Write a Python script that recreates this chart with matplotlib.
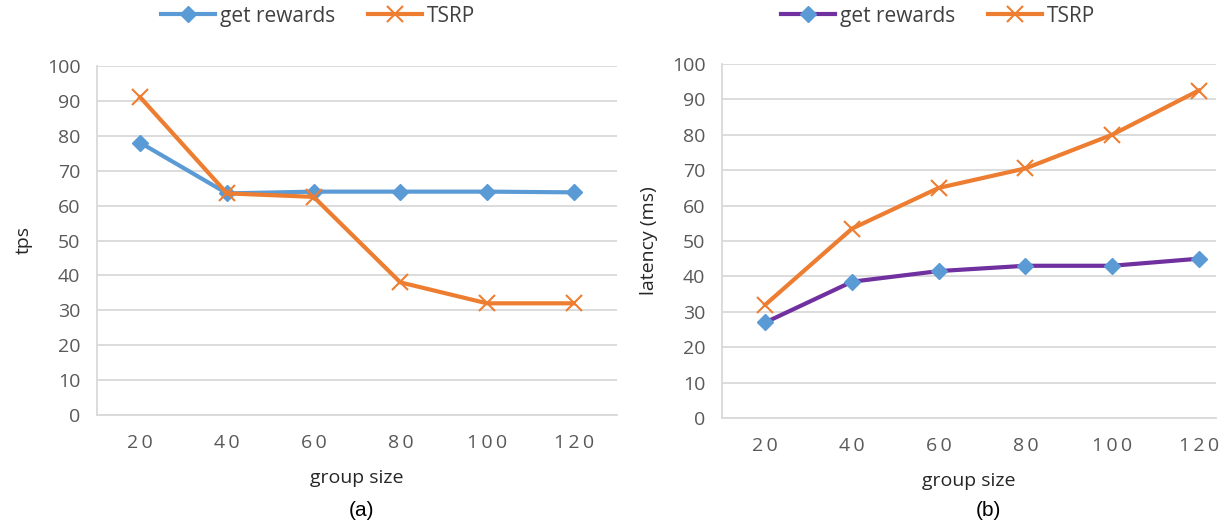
import matplotlib.pyplot as plt

group_size = ["20", "40", "60", "80", "100", "120"]

tps_rewards = [78, 63.5, 64, 64, 64, 63.8]
tps_tsrp = [91, 63.5, 62.5, 38, 32, 32]

lat_rewards = [27, 38.5, 41.5, 43, 43, 45]
lat_tsrp = [32, 53.5, 65, 70.5, 80, 92.5]

plt.rcParams["font.family"] = ["Open Sans", "DejaVu Sans"]

W, H = 1226, 525
fig = plt.figure(figsize=(W / 100, H / 100), dpi=100)


def px_axes(x0, x1, ytop, ybot):
    return fig.add_axes([x0 / W, 1 - ybot / H, (x1 - x0) / W, (ybot - ytop) / H])


def style(ax, xmax):
    ax.set_ylim(0, 100)
    ax.set_yticks(range(0, 101, 10))
    ax.set_xlim(-0.5, xmax)
    ax.grid(True, axis="y", color="#d9d9d9", lw=1.3)
    ax.set_axisbelow(True)
    for s in ["top", "right"]:
        ax.spines[s].set_visible(False)
    for s in ["left", "bottom"]:
        ax.spines[s].set_color("#d9d9d9")
        ax.spines[s].set_linewidth(1.3)
    ax.tick_params(length=0, labelsize=14, colors="#595959", pad=12)
    ax.tick_params(axis="x", pad=14)
    ax.set_xlabel("group size", fontsize=14, color="#262626", labelpad=12)


def spaced(s):
    return "\u2009".join(s)


x = range(len(group_size))

# (a) throughput
ax1 = px_axes(97, 617, 66, 415)
ax1.plot(x, tps_rewards, color="#5b9bd5", lw=3, marker="D", ms=8, label="get rewards")
ax1.plot(x, tps_tsrp, color="#ed7d31", lw=3, marker="x", ms=12, mew=1.5, label="TSRP")
ax1.set_xticks(list(x), [spaced(g) for g in group_size])
style(ax1, 5.5)
ax1.set_ylabel("tps", fontsize=14, color="#262626", labelpad=10)
fig.legend(*ax1.get_legend_handles_labels(), loc="center", bbox_to_anchor=(318 / W, 1 - 16 / H),
           ncol=2, frameon=False, fontsize=15, labelcolor="#404040", handlelength=2.6,
           columnspacing=1.6, handletextpad=0.2)
fig.text(361 / W, 1 - 510 / H, "(a)", ha="center", va="center", fontsize=15,
         family="Liberation Sans")

# (b) latency
ax2 = px_axes(722, 1216, 64, 418)
ax2.plot(x, lat_rewards, color="#7030a0", lw=3, marker="D", ms=8,
         mfc="#5b9bd5", mec="#5b9bd5", label="get rewards")
ax2.plot(x, lat_tsrp, color="#ed7d31", lw=3, marker="x", ms=12, mew=1.5, label="TSRP")
ax2.set_xticks(list(x), [spaced(g) for g in group_size])
style(ax2, 5.2)
ax2.set_ylabel("latency (ms)", fontsize=14, color="#262626", labelpad=10)
fig.legend(*ax2.get_legend_handles_labels(), loc="center", bbox_to_anchor=(938 / W, 1 - 16 / H),
           ncol=2, frameon=False, fontsize=15, labelcolor="#404040", handlelength=2.6,
           columnspacing=1.6, handletextpad=0.2)
fig.text(988 / W, 1 - 510 / H, "(b)", ha="center", va="center", fontsize=15,
         family="Liberation Sans")

fig.savefig("out.png", dpi=100)
